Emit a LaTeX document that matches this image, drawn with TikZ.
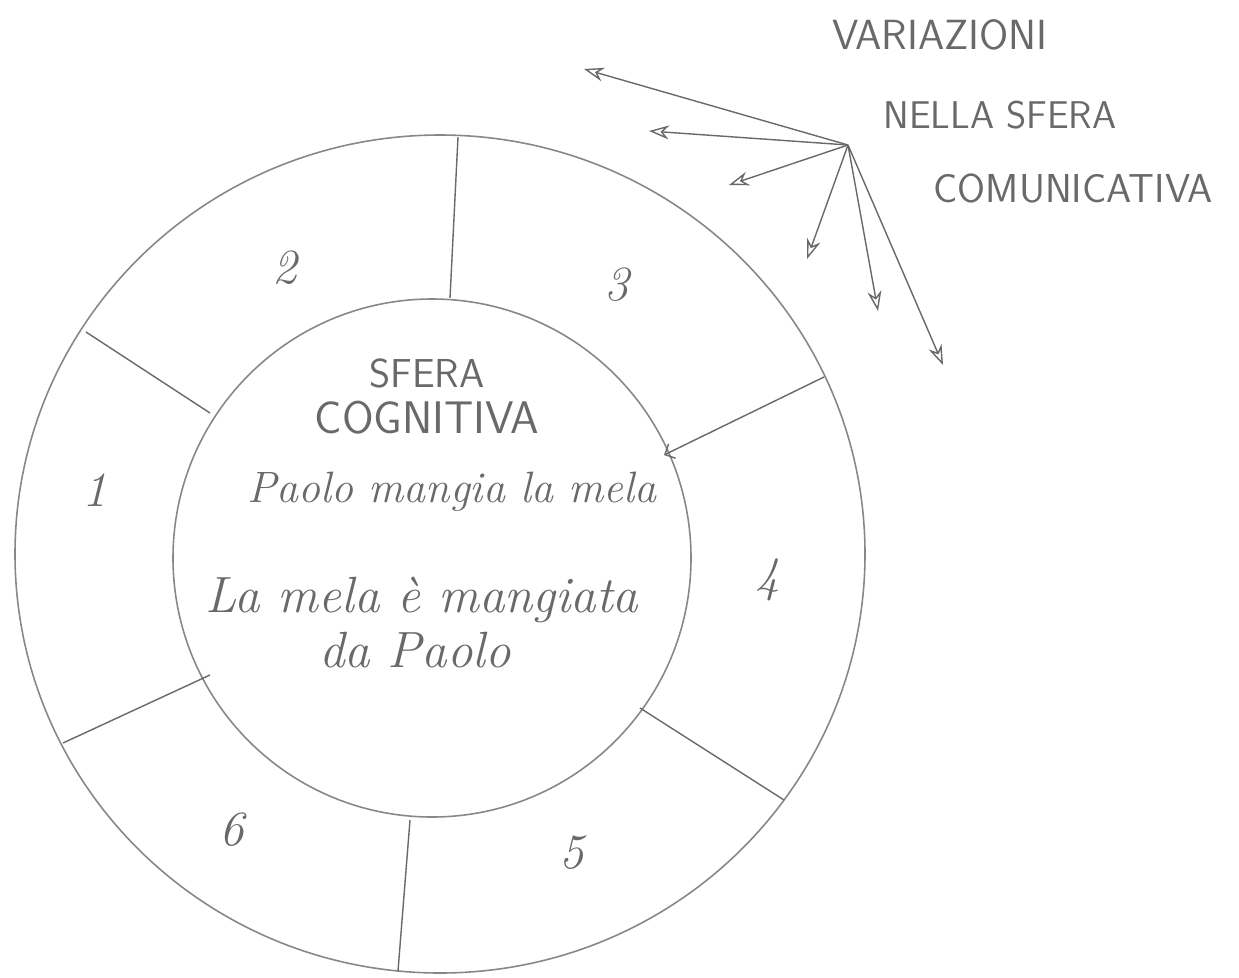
\documentclass[tikz,border=0pt]{standalone}
\usepackage{fontspec}
\usetikzlibrary{arrows.meta}
\definecolor{pencil}{RGB}{105,105,105}
\definecolor{pencillight}{RGB}{135,135,135}

\begin{document}
\begin{tikzpicture}[x=0.02cm, y=-0.02cm, >={Stealth[open, length=4mm, width=2.8mm]},
    every node/.style={text=pencil, inner sep=0pt},
    caps/.style={font=\sffamily\fontsize{22}{24}\selectfont},
    hand/.style={font=\itshape\fontsize{29}{31}\selectfont},
    num/.style={font=\itshape\fontsize{28}{30}\selectfont}]

\useasboundingbox (0,0) rectangle (1239,977);

% the two spheres
\draw[pencillight, line width=0.9pt] (440,554) ellipse [x radius=425, y radius=419];
\draw[pencillight, line width=0.9pt] (432,558) circle [radius=259];

% the six sectors
\coordinate (o23) at (458,137); \coordinate (i23) at (450,298);
\coordinate (o12) at (86,332);  \coordinate (i12) at (210,413);
\coordinate (o34) at (824,377); \coordinate (i34) at (664,455);
\coordinate (o45) at (784,800); \coordinate (i45) at (640,708);
\coordinate (o56) at (398,971); \coordinate (i56) at (410,820);
\coordinate (o61) at (63,743);  \coordinate (i61) at (210,675);
\draw[pencil, line width=0.8pt] (o23)--(i23);
\draw[pencil, line width=0.8pt] (o12)--(i12);
\draw[pencil, line width=0.8pt, -{Straight Barb[length=1.6mm]}] (o34)--(i34);
\draw[pencil, line width=0.8pt] (o45)--(i45);
\draw[pencil, line width=0.8pt] (o56)--(i56);
\draw[pencil, line width=0.8pt] (o61)--(i61);

\node[num] (n1) at (95,490) {1};
\node[num] (n2) at (285,268) {2};
\node[num] (n3) at (617,285) {3};
\node[num] (n4) at (768,580) {4};
\node[num] (n5) at (572,853) {5};
\node[num] (n6) at (232,830) {6};

% inner sphere
\node[caps, font=\sffamily\fontsize{23}{25}\selectfont] (sfera) at (427,373) {SFERA};
\node[caps, font=\sffamily\fontsize{26}{28}\selectfont] (cogn) at (427,418) {COGNITIVA};
\node[hand, font=\itshape\fontsize{25}{27}\selectfont] (attiva) at (452,492) {Paolo mangia la mela};
\node[hand] (passiva) at (422,600) {La mela è mangiata};
\node[hand] (agente) at (415,650) {da Paolo};

% communicative sphere
\node[caps, font=\sffamily\fontsize{24}{26}\selectfont] (var) at (940,35) {VARIAZIONI};
\node[caps] (nella) at (1000,115) {NELLA SFERA};
\node[caps, font=\sffamily\fontsize{23}{25}\selectfont] (comun) at (1073,188) {COMUNICATIVA};

\coordinate (src) at (848,145);
\foreach \tx/\ty [count=\i] in {584/69, 649/131, 729/185, 807/259, 878/311, 943/365}
    \coordinate (v\i) at (\tx,\ty);
\foreach \i in {1,...,6}
    \draw[pencil, line width=0.8pt, ->] (src)--(v\i);
\end{tikzpicture}
\end{document}
